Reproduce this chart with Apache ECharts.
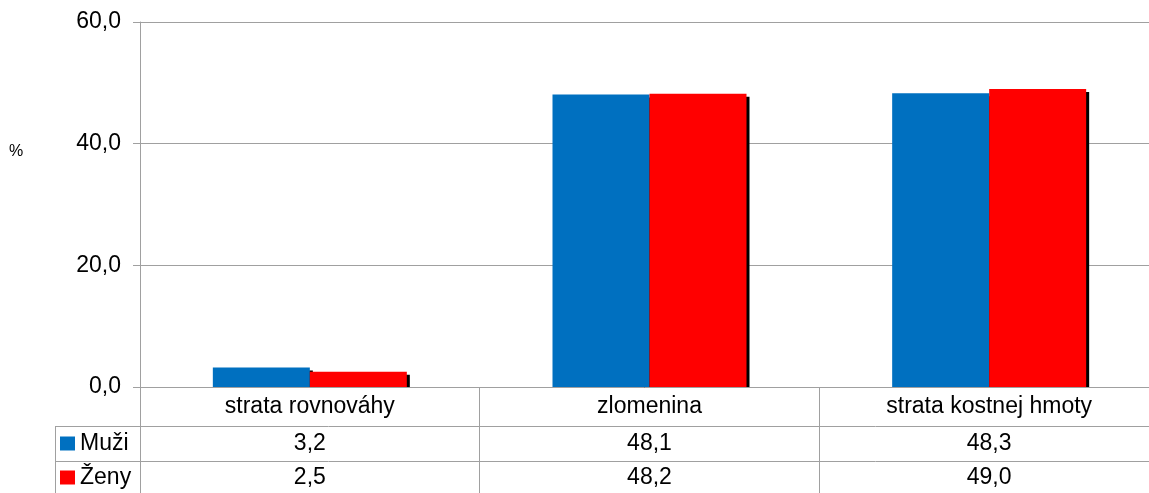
<!DOCTYPE html>
<html>
<head>
<meta charset="utf-8">
<script src="https://cdn.jsdelivr.net/npm/echarts@6/dist/echarts.min.js"></script>
<style>
  html, body { margin: 0; padding: 0; background: #fff; }
  #chart { width: 1149px; height: 493px; }
</style>
</head>
<body>
<div id="chart"></div>
<script>
// data
var categories = ['strata rovnováhy', 'zlomenina', 'strata kostnej hmoty'];
var muzi = [3.2, 48.1, 48.3];
var zeny = [2.5, 48.2, 49.0];
var seriesNames = ['Muži', 'Ženy'];
var colors = ['#0070c0', '#ff0000'];
var yTicks = [0, 20, 40, 60];

var FONT = 'Liberation Sans, Arial, sans-serif';
var GRID = '#a0a0a0';
var FS = 23;

function fmt(v) {
  return v.toFixed(1).replace('.', ',');
}

var chart = echarts.init(document.getElementById('chart'));

var barStyle = function (c) {
  return {
    color: c,
    shadowColor: '#000',
    shadowBlur: 0,
    shadowOffsetX: 3,
    shadowOffsetY: 3
  };
};

var option = {
  animation: false,
  grid: { left: 140, width: 1019, top: 22, bottom: 106, containLabel: false, outerBoundsMode: 'none' },
  xAxis: {
    type: 'category',
    data: categories,
    z: 10,
    axisLine: { lineStyle: { color: GRID, width: 1 } },
    axisTick: { show: true, length: 110, interval: 0, lineStyle: { color: GRID } },
    axisLabel: {
      interval: 0, margin: 8, fontSize: FS, lineHeight: FS,
      color: '#000', fontFamily: FONT
    }
  },
  yAxis: {
    type: 'value',
    min: yTicks[0],
    max: yTicks[yTicks.length - 1],
    interval: yTicks[1] - yTicks[0],
    axisLine: { show: true, lineStyle: { color: GRID } },
    axisTick: { show: true, length: 7, lineStyle: { color: GRID } },
    splitLine: { show: true, lineStyle: { color: GRID } },
    axisLabel: {
      margin: 19, fontSize: FS, color: '#000', fontFamily: FONT,
      formatter: function (v) { return fmt(v); }
    }
  },
  series: [
    { name: seriesNames[0], type: 'bar', data: muzi, barWidth: 97, barGap: '0%', itemStyle: barStyle(colors[0]) },
    { name: seriesNames[1], type: 'bar', data: zeny, barWidth: 97, barGap: '0%', itemStyle: barStyle(colors[1]) }
  ]
};
chart.setOption(option);

// tabuľka s hodnotami pod grafom
var rows = [muzi, zeny];
var rowY = [443.5, 477.5];
var g = [
  { type: 'text', left: 9, top: 144, style: { text: '%', fill: '#000', font: '16px ' + FONT } },
  // zakrytie tieňa pod osou
  { type: 'rect', z: 5, shape: { x: 141, y: 388, width: 1020, height: 4 }, style: { fill: '#fff' } },
  { type: 'line', z: 6, shape: { x1: 55, y1: 426.5, x2: 1149, y2: 426.5 }, style: { stroke: GRID, lineWidth: 1 } },
  { type: 'line', z: 6, shape: { x1: 55, y1: 461.5, x2: 1149, y2: 461.5 }, style: { stroke: GRID, lineWidth: 1 } },
  { type: 'line', z: 6, shape: { x1: 55.5, y1: 426, x2: 55.5, y2: 493 }, style: { stroke: GRID, lineWidth: 1 } }
];
rows.forEach(function (vals, r) {
  g.push({ type: 'rect', z: 6, shape: { x: 60, y: rowY[r] - 7, width: 15, height: 14 }, style: { fill: colors[r] } });
  g.push({ type: 'text', z: 6, x: 80, y: rowY[r], style: {
    text: seriesNames[r], font: FS + 'px ' + FONT, fill: '#000', textAlign: 'left', textVerticalAlign: 'middle'
  } });
  vals.forEach(function (v, i) {
    var px = chart.convertToPixel({ xAxisIndex: 0 }, i);
    g.push({ type: 'text', z: 6, x: px, y: rowY[r], style: {
      text: fmt(v), font: FS + 'px ' + FONT, fill: '#000', textAlign: 'center', textVerticalAlign: 'middle'
    } });
  });
});
chart.setOption({ graphic: g });
</script>
</body>
</html>
